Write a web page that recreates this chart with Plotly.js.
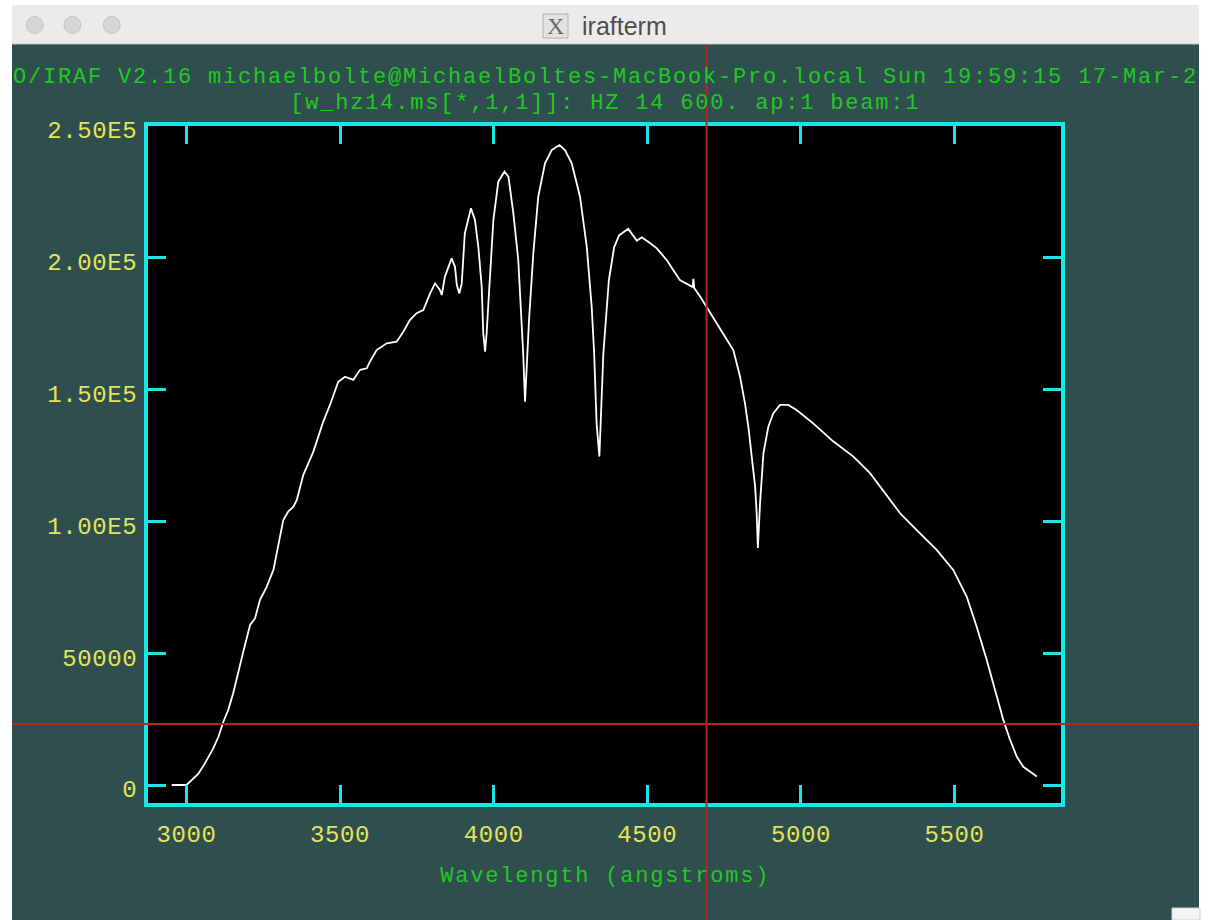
<!DOCTYPE html>
<html>
<head>
<meta charset="utf-8">
<script src="https://cdn.plot.ly/plotly-3.0.1.min.js"></script>
<style>
html,body{margin:0;padding:0;background:#ffffff;}
#chart{width:1208px;height:920px;}
.xtick text, .ytick text { letter-spacing: 0.6px; }
.annotation[data-index="0"] .annotation-text,
.annotation[data-index="1"] .annotation-text,
.annotation[data-index="2"] .annotation-text { letter-spacing: 1.8px; }
</style>
</head>
<body>
<div id="chart"></div>
<script>
// ---- data ----
const wavelength = [2952,3000,3038,3060,3087,3104,3120,3136,3152,3169,3185,3207,3223,3239,3261,3283,3299,3315,3331,3348,3359,3380,3413,3445,3467,3494,3516,3543,3565,3587,3597,3619,3652,3684,3706,3727,3749,3771,3793,3809,3825,3831,3841,3863,3874,3880,3888,3896,3906,3926,3939,3950,3961,3966,3972,3977,3986,3999,4015,4035,4048,4064,4080,4091,4096,4102,4107,4115,4129,4145,4167,4189,4214,4232,4254,4281,4303,4319,4327,4335,4344,4352,4357,4375,4392,4408,4438,4466,4482,4503,4531,4563,4606,4645,4648,4650,4653,4672,4693,4726,4753,4780,4791,4802,4818,4829,4840,4851,4856,4860,4867,4878,4894,4910,4932,4959,4986,5040,5106,5171,5225,5280,5323,5377,5442,5496,5540,5572,5605,5632,5659,5681,5703,5724,5768];
const flux = [0,0,4200,8200,13900,18300,24000,28500,34800,42400,50600,60700,63200,70200,75200,81600,90400,100500,103700,105600,108100,117600,126500,137800,144200,153000,154900,153700,157500,158100,160600,165000,167600,168200,172000,176400,179000,180200,186500,190300,187800,185900,192800,199800,196600,189700,186500,190300,209300,218800,214400,204200,189100,171400,164400,171400,189100,214400,228900,232700,230800,217000,199200,176400,163800,145400,157500,176400,201700,223200,235900,240900,242800,240900,235900,223200,204200,181500,163800,137200,124600,147300,163800,191600,204000,208500,211000,206500,207800,206100,203600,199200,191600,189100,189000,192000,188500,185300,181500,175200,170100,165000,160000,154900,144800,135900,124600,113200,103100,89900,106900,125800,135900,141000,144200,144200,142300,137200,130300,124600,118300,110000,103100,96700,89200,81600,71400,60100,47400,36000,24700,17100,10700,6900,3200];

const xTickVals = [3000,3500,4000,4500,5000,5500];
const xTickText = ["3000","3500","4000","4500","5000","5500"];
const yTickVals = [0,50000,100000,150000,200000,250000];
const yTickText = ["0","50000","1.00E5","1.50E5","2.00E5","2.50E5"];

const titleLine1 = "O/IRAF V2.16 michaelbolte@MichaelBoltes-MacBook-Pro.local Sun 19:59:15 17-Mar-2";
const titleLine2 = "[w_hz14.ms[*,1,1]]: HZ 14 600. ap:1 beam:1";
const xAxisTitle = "Wavelength (angstroms)";
const windowTitle = "irafterm";

const cursorWave = 4693;
const cursorFlux = 23100;

// ---- layout geometry ----
const W = 1208, H = 920;
const plotL = 148, plotR = 1061, plotT = 126, plotB = 803;
const xRange = [2874.7, 5846.7];
const yRange = [-6829, 250025];

function pxX(p){ return (p - plotL) / (plotR - plotL); }
function pxY(p){ return (plotB - p) / (plotB - plotT); }
function dataToPaperX(v){ return (v - xRange[0]) / (xRange[1] - xRange[0]); }
function dataToPaperY(v){ return (v - yRange[0]) / (yRange[1] - yRange[0]); }

const CYAN = '#19E6E6', YELLOW = '#E3E35A', GREEN = '#22C822', RED = '#B82424';
const MONO = 'Liberation Mono, DejaVu Sans Mono, monospace';

const trace = {
  x: wavelength, y: flux, type: 'scatter', mode: 'lines',
  line: {color: '#FFFFFF', width: 1.8}, hoverinfo: 'skip'
};

function rectPx(x0, y0, x1, y1, fill, line){
  return {type:'rect', xref:'paper', yref:'paper', x0:pxX(x0), x1:pxX(x1), y0:pxY(y1), y1:pxY(y0),
          fillcolor: fill, line: line || {width:0}, layer:'above'};
}
function circlePx(cx, cy, r, fill, lc){
  return {type:'circle', xref:'paper', yref:'paper', x0:pxX(cx-r), x1:pxX(cx+r), y0:pxY(cy+r), y1:pxY(cy-r),
          fillcolor: fill, line:{color: lc, width:1}, layer:'above'};
}

const cx = dataToPaperX(cursorWave);
const cy = dataToPaperY(cursorFlux);

const shapes = [
  rectPx(0, 0, 12, 920, '#FFFFFF'),
  rectPx(1199, 0, 1208, 920, '#FFFFFF'),
  rectPx(0, 0, 1208, 5, '#FFFFFF'),
  rectPx(12, 5, 1199, 44, '#EBEBEB'),
  {type:'line', xref:'paper', yref:'paper', x0:pxX(12), x1:pxX(1199), y0:pxY(44), y1:pxY(44), line:{color:'#C4C4C4', width:1}, layer:'above'},
  circlePx(34.7, 25, 8.5, '#D6D6D6', '#C6C6C6'),
  circlePx(72.5, 25, 8.5, '#D6D6D6', '#C6C6C6'),
  circlePx(111.7, 25, 8.5, '#D6D6D6', '#C6C6C6'),
  rectPx(543, 14, 568, 38, '#E2E2E2', {color:'#B0B0B0', width:1}),
  rectPx(1172, 908, 1200, 920, '#F4F4F4', {color:'#D0D0D0', width:1}),
  // cursor crosshair
  {type:'line', xref:'paper', yref:'paper', x0:cx, x1:cx, y0:pxY(44.5), y1:pxY(920), line:{color:RED, width:2}, layer:'above'},
  {type:'line', xref:'paper', yref:'paper', x0:pxX(12), x1:pxX(1199), y0:cy, y1:cy, line:{color:RED, width:2}, layer:'above'}
];

function ann(text, xpx, ypx, xanchor, font){
  return {text:text, xref:'paper', yref:'paper', x:pxX(xpx), y:pxY(ypx), xanchor:xanchor, yanchor:'middle',
          showarrow:false, borderpad:0, borderwidth:0, font:font};
}

const annotations = [
  ann(titleLine1, 605.4, 77, 'center', {family:MONO, size:22, color:GREEN}),
  ann(titleLine2, 605.5, 103, 'center', {family:MONO, size:22, color:GREEN}),
  ann(xAxisTitle, 605, 876, 'center', {family:MONO, size:22, color:GREEN}),
  ann(windowTitle, 582, 26, 'left', {family:'Liberation Sans, Arial, sans-serif', size:25, color:'#4E4E4E'}),
  ann('X', 555.5, 26, 'center', {family:'Liberation Serif, DejaVu Serif, serif', size:24, color:'#6A6A6A'})
];

const axisCommon = {
  showgrid:false, zeroline:false, showline:true, linecolor:CYAN, linewidth:4, mirror:'ticks',
  ticks:'inside', ticklen:18, tickwidth:3, tickcolor:CYAN, tickmode:'array',
  tickfont:{family:MONO, size:24, color:YELLOW}, fixedrange:true
};

const layout = {
  width: W, height: H,
  margin: {l: plotL, r: W - plotR, t: plotT, b: H - plotB, pad: 0},
  paper_bgcolor: '#2F4F4F', plot_bgcolor: '#000000',
  showlegend: false,
  xaxis: Object.assign({}, axisCommon, {range: xRange, tickvals: xTickVals, ticktext: xTickText, ticklabelstandoff: 6}),
  yaxis: Object.assign({}, axisCommon, {range: yRange, tickvals: yTickVals, ticktext: yTickText, ticklabelstandoff: 2, ticklabelshift: 4}),
  shapes: shapes,
  annotations: annotations
};

Plotly.newPlot('chart', [trace], layout, {displayModeBar:false, staticPlot:true});
</script>
</body>
</html>
